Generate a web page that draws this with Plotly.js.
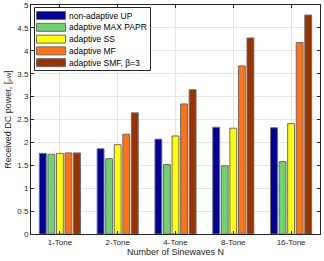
<!DOCTYPE html>
<html><head><meta charset="utf-8">
<script src="https://cdn.plot.ly/plotly-3.0.1.min.js"></script>
<style>html,body{margin:0;padding:0;background:#fff;}#chart{width:324px;height:261px;}</style>
</head><body><div id="chart"></div>
<script>
const categories = ["1-Tone","2-Tone","4-Tone","8-Tone","16-Tone"];
const seriesNames = ["non-adaptive UP","adaptive MAX PAPR","adaptive SS","adaptive MF","adaptive SMF, β=3"];
const nonAdaptiveUP = [1.76, 1.86, 2.07, 2.33, 2.32];
const adaptiveMaxPapr = [1.74, 1.645, 1.515, 1.49, 1.58];
const adaptiveSS = [1.76, 1.95, 2.14, 2.31, 2.41];
const adaptiveMF = [1.77, 2.18, 2.84, 3.67, 4.18];
const adaptiveSMF = [1.77, 2.645, 3.15, 4.28, 4.78];
const yTicks = [0,0.5,1,1.5,2,2.5,3,3.5,4,4.5,5];
const colors = ["#000099","#6fd16f","#ffff00","#ff7216","#993300"];

const allSeries = [nonAdaptiveUP, adaptiveMaxPapr, adaptiveSS, adaptiveMF, adaptiveSMF];
const traces = allSeries.map((vals,i)=>({
  type:"bar", x:categories, y:vals, name:seriesNames[i], showlegend:false,
  marker:{color:colors[i], line:{color:"#6b6b6b", width:1}}
}));
const font = "Liberation Sans, Arial, sans-serif";

// plot area in pixels: x 31..320, y 5..234
const T = 5;
const W = 289, H = 234 - T;
const px = p => (p-31)/W;
const py = p => (234-p)/H;
const shapes = [{type:"rect", xref:"paper", yref:"paper", x0:px(34.5), x1:px(150.5), y0:py(70.5), y1:py(7.5),
  fillcolor:"#fff", line:{color:"#262626", width:1}, layer:"above"}];
const annotations = [];
seriesNames.forEach((n,i)=>{
  const cy = 15.5 + i*11.8;
  shapes.push({type:"rect", xref:"paper", yref:"paper", x0:px(36.5), x1:px(65.5), y0:py(cy+4), y1:py(cy-4),
    fillcolor:colors[i], line:{color:"#6b6b6b", width:1}, layer:"above"});
  annotations.push({xref:"paper", yref:"paper", x:px(67), y:py(cy), xanchor:"left", yanchor:"middle",
    text:n, showarrow:false, font:{size:8.5, color:"#000"}});
});

const layout = {
  width:324, height:261,
  margin:{l:31, r:4, t:T, b:27, pad:0},
  paper_bgcolor:"#fff", plot_bgcolor:"#fff",
  barmode:"group", bargap:0.26, bargroupgap:0.2,
  font:{family:font, size:8, color:"#262626"},
  showlegend:false,
  shapes, annotations,
  xaxis:{type:"category", range:[-0.5,4.5], showgrid:true, gridcolor:"#e5e5e5",
    showline:true, linecolor:"#262626", mirror:"ticks", ticks:"inside", ticklen:3, tickcolor:"#262626",
    tickfont:{size:8, color:"#262626"},
    title:{text:"Number of Sinewaves N", font:{size:9, color:"#262626"}, standoff:2}},
  yaxis:{range:[0,5], tickmode:"array", tickvals:yTicks, ticktext:yTicks.map(String), showgrid:true, gridcolor:"#e5e5e5",
    showline:true, linecolor:"#262626", mirror:"ticks", ticks:"inside", ticklen:3, tickcolor:"#262626",
    tickfont:{size:8, color:"#262626"}, zeroline:false, ticklabeloverflow:"allow",
    title:{text:"Received DC power, [<span style='font-size:6px'>μW</span>]", font:{size:9, color:"#262626"}, standoff:4}}
};
Plotly.newPlot("chart", traces, layout, {displayModeBar:false, staticPlot:true});
</script></body></html>
